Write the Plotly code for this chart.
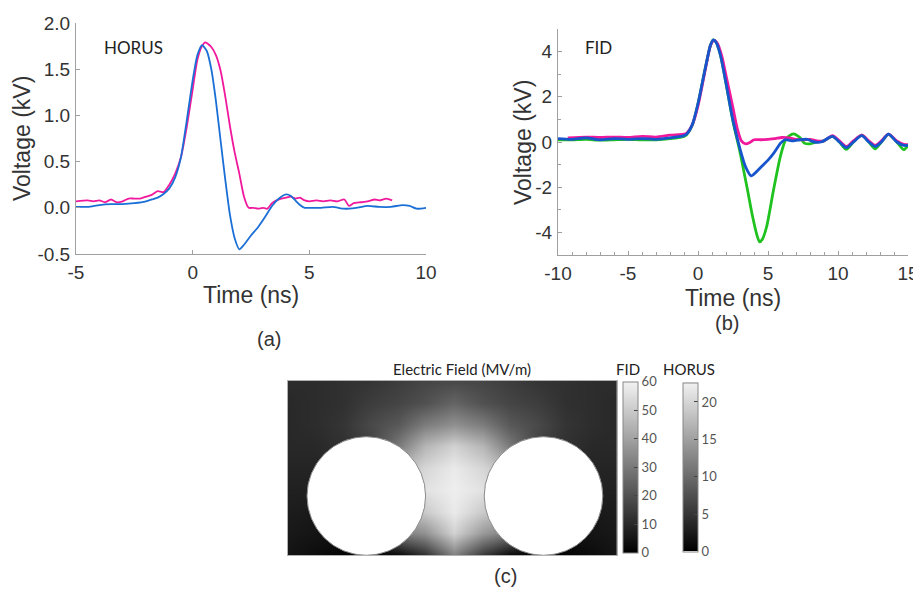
import plotly.graph_objects as go

# ---------------- Panel (a): HORUS ----------------
horus_t_blue = [-5, -4.5, -4, -3.5, -3, -2.5, -2, -1.75, -1.5, -1.25, -1.0, -0.75, -0.5, -0.25, 0, 0.2, 0.4,
                0.6, 0.8, 1.0, 1.2, 1.4, 1.6, 1.8, 2.0, 2.2, 2.5, 2.8, 3.1, 3.4, 3.7, 4.0, 4.2, 4.4, 4.6,
                4.8, 5.0, 5.5, 6.0, 6.5, 7.0, 7.5, 8.0, 8.5, 9.0, 9.3, 9.6, 10.0]
horus_v_blue = [0.01, 0.01, 0.03, 0.04, 0.04, 0.05, 0.07, 0.09, 0.11, 0.15, 0.21, 0.33, 0.55, 0.95, 1.38, 1.65, 1.76,
                1.70, 1.50, 1.15, 0.72, 0.30, -0.08, -0.33, -0.45, -0.40, -0.30, -0.21, -0.10, 0.02, 0.10, 0.145, 0.13, 0.08, 0.03,
                0.0, 0.0, 0.0, 0.01, -0.01, 0.0, 0.02, 0.01, 0.01, 0.03, 0.02, -0.01, 0.0]
horus_t_pink = [-5, -4.5, -4.25, -4, -3.75, -3.5, -3.25, -3, -2.75, -2.5, -2.25, -2, -1.75, -1.5, -1.25, -1.0,
                -0.75, -0.5, -0.25, 0, 0.2, 0.4, 0.55, 0.8, 1.0, 1.2, 1.4, 1.6, 1.8, 2.0, 2.2, 2.4, 2.6, 2.8,
                3.0, 3.2, 3.4, 3.6, 3.8, 4.0, 4.2, 4.4, 4.6, 4.8, 5.0, 5.3, 5.6, 5.9, 6.2, 6.5, 6.7, 6.9,
                7.2, 7.5, 7.8, 8.0, 8.3, 8.55]
horus_v_pink = [0.07, 0.08, 0.07, 0.08, 0.06, 0.09, 0.06, 0.07, 0.10, 0.10, 0.10, 0.12, 0.14, 0.18, 0.17, 0.25,
                0.37, 0.55, 0.88, 1.28, 1.60, 1.75, 1.79, 1.74, 1.65, 1.48, 1.20, 0.88, 0.60, 0.37, 0.12, 0.0, 0.0, -0.01,
                0.0, -0.01, 0.05, 0.08, 0.10, 0.11, 0.12, 0.10, 0.11, 0.08, 0.07, 0.08, 0.07, 0.08, 0.07, 0.09, 0.02, 0.05,
                0.06, 0.07, 0.09, 0.08, 0.10, 0.08]
horus_xticks = [-5, 0, 5, 10]
horus_xticktext = ["-5", "0", "5", "10"]
horus_yticks = [-0.5, 0.0, 0.5, 1.0, 1.5, 2.0]
horus_yticktext = ["-0.5", "0.0", "0.5", "1.0", "1.5", "2.0"]

# ---------------- Panel (b): FID ----------------
fid_t_green = [-10, -9, -8, -7, -6, -5, -4, -3, -2, -1, -0.8, -0.4, 0, 0.3, 0.6, 0.9, 1.1, 1.3, 1.6, 2.0, 2.5,
               3.0, 3.5, 3.9, 4.2, 4.4, 4.6, 4.9, 5.4, 5.9, 6.3, 6.8, 7.3, 7.6, 8.0, 8.5, 9.0, 9.6, 10.1,
               10.6, 11.1, 11.7, 12.2, 12.65, 13.1, 13.6, 14.2, 14.7, 15.0]
fid_v_green = [0.10, 0.10, 0.12, 0.08, 0.10, 0.12, 0.10, 0.10, 0.15, 0.25, 0.33, 0.75, 1.70, 2.60, 3.50, 4.30, 4.52, 4.40,
               3.85, 2.60, 0.90, -0.45, -2.00, -3.30, -4.10, -4.42, -4.30, -3.75, -2.10, -0.60, 0.15, 0.36, 0.18, -0.05,
               -0.08, 0.0, 0.05, 0.25, 0.0, -0.33, 0.0, 0.30, 0.0, -0.30, 0.0, 0.34, 0.0, -0.34, -0.15]
fid_t_blue = [-10, -9, -8, -7, -6, -5, -4, -3, -2, -1, -0.8, -0.4, 0, 0.3, 0.6, 0.9, 1.1, 1.3, 1.6, 2.0, 2.5,
              3.0, 3.4, 3.8, 4.2, 4.6, 5.0, 5.4, 5.9, 6.2, 6.8, 7.3, 7.8, 8.3, 8.8, 9.6, 10.1, 10.6, 11.1,
              11.7, 12.2, 12.65, 13.1, 13.6, 14.2, 14.7, 15.0]
fid_v_blue = [0.15, 0.12, 0.18, 0.10, 0.15, 0.12, 0.15, 0.12, 0.18, 0.28, 0.35, 0.78, 1.70, 2.60, 3.50, 4.30, 4.52, 4.40,
              3.85, 2.60, 0.95, -0.30, -1.10, -1.50, -1.30, -1.05, -0.80, -0.50, -0.05, 0.10, 0.05, 0.10, 0.12, 0.0,
              0.0, 0.25, 0.0, -0.25, 0.0, 0.28, 0.0, -0.20, 0.0, 0.35, 0.0, -0.15, -0.15]
fid_t_pink = [-9.3, -8, -7, -6, -5, -4, -3, -2, -1, -0.8, -0.4, 0, 0.3, 0.6, 0.9, 1.15, 1.4, 1.7, 2.05, 2.5,
              2.8, 3.1, 3.4, 3.7, 4.0, 4.5, 5.0, 5.5, 6.0, 6.5, 7.0, 7.5, 8.0, 8.5, 9.0, 9.6, 10.1, 10.6, 11.1,
              11.7, 12.2, 12.65, 13.1, 13.6, 14.2, 14.7, 15.0]
fid_v_pink = [0.18, 0.22, 0.20, 0.22, 0.20, 0.25, 0.22, 0.30, 0.35, 0.40, 0.78, 1.60, 2.50, 3.45, 4.28, 4.50, 4.35,
              3.80, 2.80, 1.50, 0.60, 0.05, -0.08, -0.02, 0.10, 0.10, 0.12, 0.15, 0.20, 0.18, 0.12, 0.10, 0.12, 0.05,
              0.05, 0.28, 0.05, -0.20, 0.05, 0.30, 0.05, -0.15, 0.05, 0.35, 0.05, -0.10, -0.12]
fid_xticks = [-10, -5, 0, 5, 10, 15]
fid_xticktext = ["-10", "-5", "0", "5", "10", "15"]
fid_yticks = [-4, -2, 0, 2, 4]
fid_yticktext = ["-4", "-2", "0", "2", "4"]

# ---------------- Panel (c): electric field map ----------------
field_x = [0, 2.74, 5.48, 8.22, 10.96, 13.7, 16.6, 19.5, 22.24, 24.98, 27.72, 30.46, 32.87]
field_y = [0, 2.175, 4.35, 6.525, 8.7, 10.875, 13.05, 15.225, 17.4]
field_z = [
    [5, 3, 1, 1, 2, 12, 32, 14, 2, 1, 1, 3, 5],
    [6, 5, 4, 4, 30, 36, 52, 38, 30, 4, 4, 5, 6],
    [7, 6, 6, 6, 45, 50, 58, 50, 45, 6, 6, 6, 7],
    [8, 8, 8, 8, 50, 56, 59, 56, 50, 8, 8, 8, 8],
    [9, 9, 9, 9, 45, 53, 58, 53, 45, 9, 9, 9, 9],
    [10, 10, 12, 16, 30, 45, 52, 45, 30, 16, 12, 10, 10],
    [10, 11, 13, 18, 22, 31, 36, 31, 22, 18, 13, 11, 10],
    [10, 11, 12, 15, 17, 20, 25, 20, 17, 15, 12, 11, 10],
    [11, 11, 12, 13, 15, 17, 18, 17, 15, 13, 12, 11, 11],
]
fid_scale = [0, 60]
fid_ticks = [0, 10, 20, 30, 40, 50, 60]
horus_scale = [0, 22.6]
horus_ticks = [0, 5, 10, 15, 20]
electrode_cx = [7.83, 25.55]
electrode_cy = [5.9, 5.9]
electrode_r = [5.93, 5.93]

# the page body adds an 8 px margin, so the figure is made smaller and all
# reference pixel positions are shifted by that offset
OFF = 8
W, H = 921 - OFF, 590 - OFF
def fx(px):
    return (px - OFF) / W
def fy(py):
    return 1 - (py - OFF) / H

PINK = "#f0189c"
BLUE_A = "#1a6fd6"
BLUE_B = "#1655cc"
GREEN = "#1fc21f"
GRAYSCALE = [[0, "#000000"], [1, "#f2f2f2"]]
AX_FONT = dict(family="Liberation Sans, Arial, sans-serif", size=19, color="#333333")
LBL_FONT = dict(family="Liberation Sans, Arial, sans-serif", size=23, color="#333333")
CAL_FONT = dict(family="Lato, Carlito, sans-serif", size=16, color="#222222")

fig = go.Figure()

# panel (a)
fig.add_trace(go.Scatter(x=horus_t_pink, y=horus_v_pink, mode="lines", line=dict(color=PINK, width=1.8, shape="spline", smoothing=0.6),
                         xaxis="x", yaxis="y", showlegend=False, hoverinfo="skip"))
fig.add_trace(go.Scatter(x=horus_t_blue, y=horus_v_blue, mode="lines", line=dict(color=BLUE_A, width=1.8, shape="spline", smoothing=0.6),
                         xaxis="x", yaxis="y", showlegend=False, hoverinfo="skip"))

# panel (b)
for t, v, c in [(fid_t_green, fid_v_green, GREEN), (fid_t_pink, fid_v_pink, PINK), (fid_t_blue, fid_v_blue, BLUE_B)]:
    fig.add_trace(go.Scatter(x=t, y=v, mode="lines", line=dict(color=c, width=2.8, shape="spline", smoothing=0.7),
                             xaxis="x2", yaxis="y2", showlegend=False, hoverinfo="skip"))

# panel (c)
cb_common = dict(thickness=15, thicknessmode="pixels", lenmode="fraction", xanchor="left", xpad=0,
                 yanchor="middle", ypad=0, outlinecolor="#888888", outlinewidth=1, ticks="inside",
                 ticklen=4, tickcolor="#444444",
                 tickfont=dict(family="Lato, sans-serif", size=13, color="#555555"))
fig.add_trace(go.Heatmap(x=field_x, y=field_y, z=field_z, zsmooth="best", colorscale=GRAYSCALE,
                         zmin=fid_scale[0], zmax=fid_scale[1], xaxis="x3", yaxis="y3", hoverinfo="skip",
                         colorbar=dict(x=fx(623), y=fy(467.2), len=171 / H, tickvals=fid_ticks, **cb_common)))
fig.add_trace(go.Scatter(x=[None, None], y=[None, None], mode="markers", xaxis="x3", yaxis="y3",
                         showlegend=False, hoverinfo="skip",
                         marker=dict(color=horus_scale, colorscale=GRAYSCALE, cmin=horus_scale[0], cmax=horus_scale[1],
                                     showscale=True,
                                     colorbar=dict(x=fx(683), y=fy(467), len=169.4 / H, tickvals=horus_ticks, **cb_common))))

for cx, cy, r in zip(electrode_cx, electrode_cy, electrode_r):
    fig.add_shape(type="circle", xref="x3", yref="y3", x0=cx - r, x1=cx + r, y0=cy - r, y1=cy + r,
                  fillcolor="white", line=dict(color="#8a8a8a", width=1), layer="above")

axis_line = dict(showline=True, linecolor="#a0a0a0", linewidth=1, showgrid=False, zeroline=False,
                 ticks="inside", ticklen=4, tickcolor="#a0a0a0", tickfont=AX_FONT, automargin=False)

fig.update_layout(
    width=W, height=H, margin=dict(l=0, r=0, t=0, b=0, autoexpand=False),
    paper_bgcolor="white", plot_bgcolor="white",
    xaxis=dict(domain=[fx(76), fx(426)], range=[-5, 10], tickvals=horus_xticks, ticktext=horus_xticktext,
               anchor="y", ticklabelstandoff=1, **axis_line),
    yaxis=dict(domain=[fy(254), fy(23)], range=[-0.5, 2.0], tickvals=horus_yticks, ticktext=horus_yticktext,
               anchor="x", ticklabelstandoff=1, **axis_line),
    xaxis2=dict(domain=[fx(558), fx(908)], range=[-10, 15], tickvals=fid_xticks, ticktext=fid_xticktext, anchor="y2",
                ticklabelstandoff=1, minor=dict(ticks="inside", dtick=1, tick0=0, ticklen=3, tickcolor="#a0a0a0"), **axis_line),
    yaxis2=dict(domain=[fy(255), fy(29)], range=[-5, 5], tickvals=fid_yticks, ticktext=fid_yticktext, anchor="x2",
                ticklabelstandoff=1, minor=dict(ticks="inside", dtick=1, tick0=0, ticklen=3, tickcolor="#a0a0a0"), **axis_line),
    xaxis3=dict(domain=[fx(288), fx(616.7)], range=[0, 32.87], anchor="y3", showticklabels=False, ticks="",
                showgrid=False, zeroline=False, showline=True, mirror=True, linecolor="#b0b0b0", linewidth=1,
                automargin=False),
    yaxis3=dict(domain=[fy(555), fy(381)], range=[0, 17.4], anchor="x3", showticklabels=False, ticks="",
                showgrid=False, zeroline=False, showline=True, mirror=True, linecolor="#b0b0b0", linewidth=1,
                automargin=False),
)

annos = [
    dict(text="Voltage (kV)", x=fx(22), y=fy(139), textangle=-90, font=LBL_FONT),
    dict(text="Time (ns)", x=fx(251), y=fy(295), font=LBL_FONT),
    dict(text="Voltage (kV)", x=fx(523), y=fy(143), textangle=-90, font=LBL_FONT),
    dict(text="Time (ns)", x=fx(733), y=fy(298), font=LBL_FONT),
    dict(text="(a)", x=fx(269), y=fy(339), font=dict(LBL_FONT, size=20)),
    dict(text="(b)", x=fx(727), y=fy(323), font=dict(LBL_FONT, size=20)),
    dict(text="(c)", x=fx(506), y=fy(576), font=dict(LBL_FONT, size=20)),
    dict(text="HORUS", x=fx(133), y=fy(48), font=dict(CAL_FONT, size=17)),
    dict(text="FID", x=fx(598), y=fy(48), font=dict(CAL_FONT, size=17)),
    dict(text="Electric Field (MV/m)", x=fx(461.5), y=fy(369), font=dict(CAL_FONT, size=15)),
    dict(text="FID", x=fx(628), y=fy(369), font=dict(CAL_FONT, size=15)),
    dict(text="HORUS", x=fx(689), y=fy(369), font=dict(CAL_FONT, size=15)),
]
for a in annos:
    fig.add_annotation(xref="paper", yref="paper", showarrow=False, xanchor="center", yanchor="middle", **a)

fig.write_html("out.html")
